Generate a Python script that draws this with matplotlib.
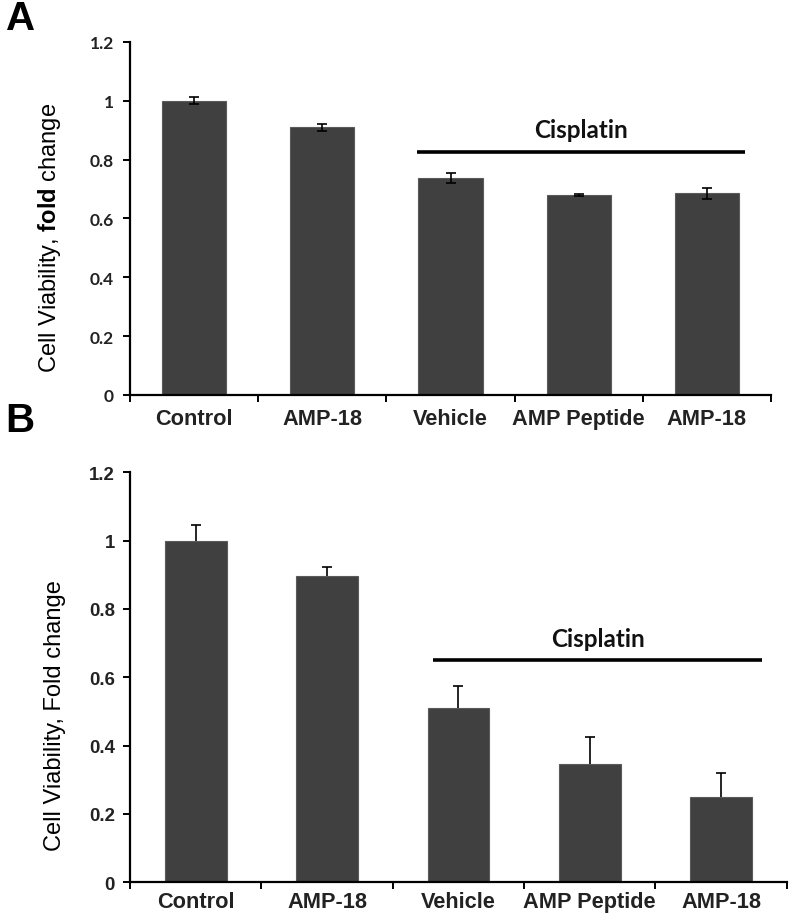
import numpy as np
import matplotlib
matplotlib.use('Agg')
import matplotlib.pyplot as plt
from matplotlib.ticker import FixedLocator

plt.rcParams['font.family'] = ['Liberation Sans', 'DejaVu Sans']
plt.rcParams['mathtext.fontset'] = 'custom'
plt.rcParams['mathtext.rm'] = 'Liberation Sans'
plt.rcParams['mathtext.bf'] = 'Liberation Sans:bold'

categories = ['Control', 'AMP-18', 'Vehicle', 'AMP Peptide', 'AMP-18']

# panel A
vals_a = [1.0, 0.91, 0.738, 0.681, 0.685]
err_a = [0.012, 0.012, 0.016, 0.003, 0.019]
cis_a = (1.74, 4.30, 0.827)   # start, end, level of the Cisplatin bar

# panel B
vals_b = [1.0, 0.896, 0.51, 0.346, 0.251]
err_b = [0.046, 0.028, 0.064, 0.080, 0.068]
cis_b = (1.81, 4.31, 0.65)

yticks = [0, 0.2, 0.4, 0.6, 0.8, 1.0, 1.2]
ytick_labels = ['0', '0.2', '0.4', '0.6', '0.8', '1', '1.2']

bar_color = '#404040'

fig = plt.figure(figsize=(7.89, 9.2), dpi=100)
ax_a = fig.add_axes([0.1648, 0.5696, 0.8124, 0.3837])
ax_b = fig.add_axes([0.1648, 0.0399, 0.8323, 0.4457])


def style_axis(ax, ylabel, label_x, label_y, tick_font, tick_size, ypad, xpad):
    x = np.arange(len(categories))
    ax.set_xlim(-0.5, len(categories) - 0.5)
    ax.set_ylim(0, 1.2)
    for s in ['top', 'right']:
        ax.spines[s].set_visible(False)
    for s in ['left', 'bottom']:
        ax.spines[s].set_linewidth(1.6)
    ax.set_yticks(yticks)
    ax.set_yticklabels(ytick_labels, fontsize=tick_size, fontweight='bold',
                       family=tick_font, color='#222222')
    ax.tick_params(axis='y', direction='out', length=5, width=1.4, pad=ypad)
    ax.set_xticks(x)
    ax.set_xticklabels(categories, fontsize=15.7, fontweight='bold', color='#222222')
    ax.tick_params(axis='x', which='major', length=0, pad=xpad)
    ax.xaxis.set_minor_locator(FixedLocator(np.arange(-0.5, len(categories), 1.0)))
    ax.tick_params(axis='x', which='minor', direction='out', length=5, width=1.4)
    ax.set_ylabel(ylabel, fontsize=17)
    ax.yaxis.set_label_coords(label_x, label_y)


x = np.arange(len(categories))

# panel A
ax_a.bar(x, vals_a, width=0.5, color=bar_color, edgecolor='#5a5a5a', linewidth=0.8,
         yerr=err_a, capsize=3.5, error_kw=dict(ecolor='black', elinewidth=1.2, capthick=1.2))
style_axis(ax_a, r'Cell Viability, $\mathbf{fold}$ change', -0.104, 0.449,
           ['Lato', 'DejaVu Sans'], 12.5, 6.5, 9.5)
ax_a.plot([cis_a[0], cis_a[1]], [cis_a[2], cis_a[2]], color='black', lw=2.6,
          solid_capstyle='butt', clip_on=False)
ax_a.text((cis_a[0] + cis_a[1]) / 2, cis_a[2] + 0.035, 'Cisplatin', ha='center', va='bottom',
          fontsize=17.5, fontweight='bold', family=['Lato', 'DejaVu Sans'], color='#111111')

# panel B
bars_b = ax_b.bar(x, vals_b, width=0.47, color=bar_color, edgecolor='#5a5a5a', linewidth=0.8,
                  yerr=[np.zeros(len(err_b)), err_b], capsize=3.5,
                  error_kw=dict(ecolor='black', elinewidth=1.2, capthick=1.2))
caps = bars_b.errorbar.lines[1]
if len(caps) == 2:
    caps[0].set_visible(False)
style_axis(ax_b, 'Cell Viability, Fold change', -0.097, 0.408,
           ['Liberation Sans', 'DejaVu Sans'], 13.4, 5.8, 6)
ax_b.plot([cis_b[0], cis_b[1]], [cis_b[2], cis_b[2]], color='black', lw=2.6,
          solid_capstyle='butt', clip_on=False)
ax_b.text((cis_b[0] + cis_b[1]) / 2, cis_b[2] + 0.03, 'Cisplatin', ha='center', va='bottom',
          fontsize=17.5, fontweight='bold', family=['Lato', 'DejaVu Sans'], color='#111111')

fig.text(0.007, 0.967, 'A', fontsize=29, fontweight='bold', va='baseline')
fig.text(0.007, 0.5304, 'B', fontsize=29, fontweight='bold', va='baseline')

fig.savefig('out.png', dpi=100)
